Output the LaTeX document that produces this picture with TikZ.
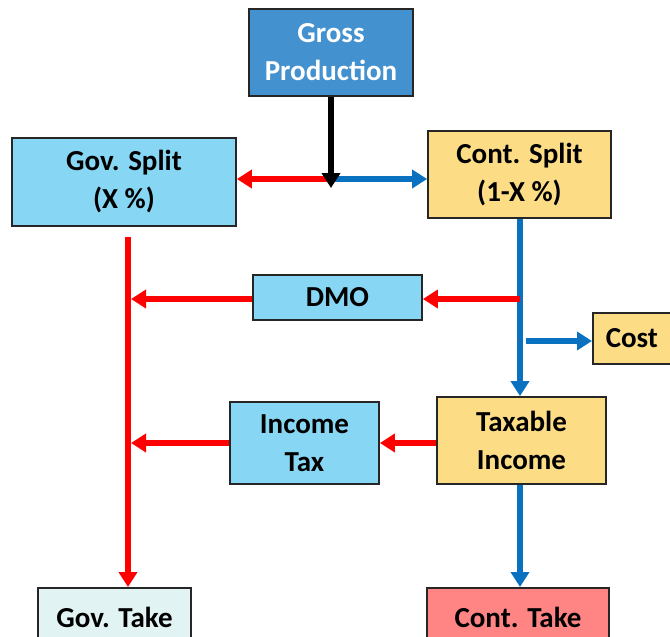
\documentclass[tikz,border=0pt]{standalone}
\usepackage{fontspec}
\setmainfont{Carlito}
\usetikzlibrary{arrows.meta}
\definecolor{gpblue}{HTML}{4391CE}
\definecolor{lblue}{HTML}{86D6F4}
\definecolor{lyel}{HTML}{FCDD86}
\definecolor{lcyan}{HTML}{E2F3F3}
\definecolor{lred}{HTML}{FF8585}
\definecolor{ared}{HTML}{FF0000}
\definecolor{ablue}{HTML}{0A70C0}
\tikzset{
  box/.style={draw=black!85, line width=1.8pt, inner sep=0pt, align=center,
    font=\fontsize{29}{38}\selectfont\bfseries},
  rarr/.style={draw=ared, line width=5.5pt, -{Triangle[length=15pt,width=18pt]}},
  barr/.style={draw=ablue, line width=5.5pt, -{Triangle[length=15pt,width=18pt]}},
  karr/.style={draw=black, line width=5.5pt, -{Triangle[length=15pt,width=18pt]}},
  rline/.style={draw=ared, line width=5.5pt},
  bline/.style={draw=ablue, line width=5.5pt},
}
\begin{document}
\begin{tikzpicture}[x=1pt,y=-1pt]
\useasboundingbox (0,0) rectangle (670,637);
\node[box, fill=gpblue, text=white, minimum width=164pt, minimum height=87pt] (gp) at (331,52.5) {Gross\\Production};
\node[box, fill=lblue, minimum width=224pt, minimum height=88pt] (gs) at (124,182) {Gov. Split\\(X \%)};
\node[box, fill=lyel, minimum width=183pt, minimum height=87pt] (cs) at (519.5,174.5) {Cont. Split\\(1-X \%)};
\node[box, fill=lblue, minimum width=169pt, minimum height=45pt] (dmo) at (337.5,297.5) {DMO};
\node[box, fill=lyel, minimum width=78pt, minimum height=51pt, anchor=west] (cost) at (592,338.5) {Cost};
\node[box, fill=lyel, minimum width=169pt, minimum height=87pt] (ti) at (521.5,440.5) {Taxable\\Income};
\node[box, fill=lblue, minimum width=149pt, minimum height=82pt] (it) at (304.5,443) {Income\\Tax};
\node[box, fill=lcyan, minimum width=153pt, minimum height=60pt, anchor=north] (gt) at (114.5,587) {Gov. Take};
\node[box, fill=lred, minimum width=182pt, minimum height=60pt, anchor=north] (ct) at (518,587) {Cont. Take};
% junction coordinates
\coordinate (j) at (331,179);
\coordinate (jend) at (331,188);
\coordinate (gtop) at (128,237);
\coordinate (gdmo) at (128,299);
\coordinate (git) at (128,443);
\coordinate (cdmo) at (520,299);
\coordinate (ccost) at (526,341);
% arrows
\draw[rarr] (j) -- (gs.east |- j);
\draw[barr] (j) -- (cs.west |- j);
\draw[karr] (gp.south) -- (jend);
\draw[rarr] (gtop) -- (gt.north -| gtop);
\draw[bline] (cs.south -| cdmo) -- (cdmo);
\draw[barr] (cdmo) -- (ti.north -| cdmo);
\draw[rarr] (cdmo) -- (dmo.east |- cdmo);
\draw[rarr] (dmo.west |- gdmo) -- ([xshift=3pt]gdmo);
\draw[barr] (ccost) -- (cost.west |- ccost);
\draw[rarr] (ti.west |- git) -- (it.east |- git);
\draw[rarr] (it.west |- git) -- ([xshift=3pt]git);
\draw[barr] (ti.south -| cdmo) -- (ct.north -| cdmo);
\end{tikzpicture}
\end{document}
